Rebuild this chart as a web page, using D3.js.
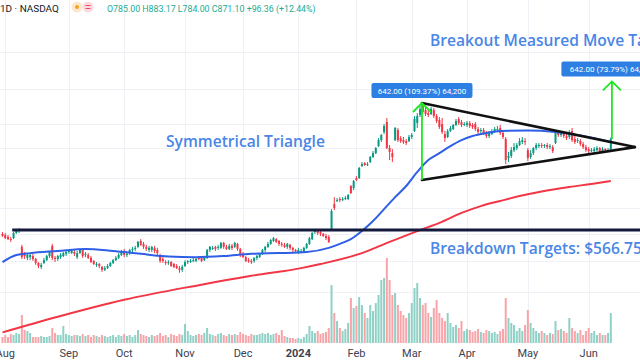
<!DOCTYPE html>
<html><head><meta charset="utf-8">
<script src="https://cdn.jsdelivr.net/npm/d3@7"></script>
<style>
html,body{margin:0;padding:0;background:#fff;overflow:hidden}
svg{display:block}
</style></head><body>
<svg id="chart" width="640" height="360"></svg>
<script>
// ---------- DATA (SMCI daily, Jul 31 2023 – Jun 13 2024) ----------
const firstDay = "2023-07-31";
const holidays = ["2023-09-04","2023-11-23","2023-12-25","2024-01-01","2024-01-15","2024-02-19","2024-03-29","2024-05-27"];

const open = [350,346,340,333,336,353,360,309,289,278, 280,283,275,265,255,265,272,283,312,278,
 275,280,283,289,294,291,294,280,291,300, 286,286,278,270,260,262,255,248,252,257,
 265,272,278,286,297,286,291,300,303,309, 327,318,309,300,300,306,300,286,275,267,
 265,267,262,257,252,248,257,267,267,270, 270,280,278,272,278,300,303,309,306,306,
 321,309,303,312,309,318,303,289,280,272, 270,270,278,280,289,300,309,318,327,333,
 327,318,315,309,315,306,300,294,294,294, 306,318,333,356,360,356,350,343,340,363,
 466,480,489,484,489,489,554,543,598,598, 671,691,678,697,732,760,813,861,930,1024,
 798,760,861,948,878,861,853,853,887,939, 1014,1095,1194,1149,1116,1106,1149,1085,1044,1005,
 913,887,939,958,995,1054,1024,995,995,1014, 995,1005,958,939,948,921,895,913,939,948,
 967,921,870,725,739,782,798,821,845,853, 782,732,760,798,813,821,813,821,805,805,
 837,930,904,921,895,887,939,870,853,853, 829,805,790,775,775,782,798,775,790,775, 785];
const high = [356,353,346,340,356,367,370,315,294,291, 291,289,278,267,265,278,286,297,318,283,
 286,291,294,297,300,303,300,297,303,303, 294,291,283,272,267,265,257,257,262,267,
 275,283,291,300,303,294,303,309,312,327, 333,324,315,312,312,312,306,289,280,272,
 272,270,265,262,257,260,272,272,275,278, 278,283,280,283,303,312,312,312,315,324,
 324,315,318,318,324,321,306,294,283,278, 275,280,286,291,303,312,324,333,340,336,
 330,324,321,321,318,309,303,306,303,309, 321,340,356,367,367,360,353,350,346,444,
 498,494,498,498,503,513,559,587,610,665, 697,697,697,739,775,805,878,913,1005,1064,
 821,790,976,967,895,887,870,904,921,1085, 1116,1194,1229,1183,1149,1183,1171,1106,1074,1064,
 939,958,986,1005,1054,1074,1044,1024,1034,1034, 1014,1024,976,967,967,939,939,958,976,986,
 995,939,887,768,805,837,837,878,887,878, 798,782,805,837,837,837,829,837,829,821,
 948,948,939,939,913,948,967,904,878,870, 845,821,805,798,805,813,805,805,798,798, 883];
const low = [340,333,330,324,333,350,353,275,275,272, 272,270,260,252,250,262,270,278,272,267,
 270,275,280,283,289,289,283,275,289,278, 280,275,265,260,255,252,243,245,250,255,
 262,270,275,283,280,280,286,294,297,306, 312,303,297,294,294,291,286,265,265,260,
 260,255,252,250,241,243,255,262,265,267, 267,272,267,270,275,294,300,297,300,303,
 303,300,300,300,306,297,280,278,267,265, 262,265,272,278,286,294,306,315,324,321,
 312,309,306,303,300,294,291,289,291,291, 303,315,330,350,346,343,340,330,321,360,
 440,475,475,480,484,484,513,533,581,593, 665,671,671,691,725,753,805,845,913,790,
 711,697,853,845,837,829,821,845,870,930, 967,1074,1106,1085,1074,1095,1064,1014,958,913,
 845,878,930,948,986,995,976,986,976,967, 958,939,913,921,904,878,878,904,921,930,
 904,870,684,697,725,768,782,813,829,821, 704,718,746,782,798,798,798,790,790,760,
 829,887,887,878,861,870,845,829,837,813, 790,768,760,768,768,775,768,768,768,768, 784];
const close = [343,336,333,330,353,360,363,280,283,286, 286,275,265,257,260,272,283,294,278,275,
 283,286,291,294,297,297,289,291,300,283, 289,278,267,262,262,257,248,252,257,265,
 272,278,286,294,286,289,300,303,306,324, 315,309,303,306,309,297,291,270,270,265,
 267,257,255,252,248,255,267,270,270,272, 275,275,270,278,300,309,306,303,309,321,
 309,303,312,306,321,303,286,280,270,270, 267,278,283,289,300,309,318,330,336,324,
 318,315,309,318,306,300,297,300,297,306, 318,336,353,360,353,350,343,336,324,436,
 449,484,484,489,494,508,518,581,587,659, 684,678,684,732,760,798,861,904,986,798,
 768,732,967,861,853,845,837,887,904,1054, 1085,1160,1127,1106,1095,1160,1085,1034,976,930,
 878,939,967,995,1034,1014,995,1005,1014,986, 976,958,930,948,921,895,921,939,958,958,
 921,887,711,739,782,805,821,853,861,845, 725,760,798,821,821,813,821,805,813,775,
 939,904,921,895,878,930,861,845,861,829, 805,782,775,782,790,798,775,790,782,782, 871];
const volume = [1.2,1.6,1.2,1.8,1.6,2.0,1.8,5.6,2.6,2.4, 2.0,1.2,1.2,1.2,1.4,1.2,1.2,1.4,3.0,2.0,
 1.6,1.6,3.4,1.8,1.6,1.4,1.6,1.6,1.4,1.8, 1.4,1.6,1.2,1.6,1.4,1.2,1.6,1.4,1.2,1.4,
 1.6,1.2,1.6,1.4,1.8,1.4,1.6,1.2,1.6,2.6, 1.8,1.6,1.4,1.2,1.6,1.4,1.6,2.0,1.4,1.6,
 1.2,1.8,1.6,1.4,1.8,1.6,3.8,2.4,1.6,1.4, 1.6,1.8,1.6,2.0,3.0,1.8,1.6,1.4,1.8,2.0,
 1.6,1.4,1.8,1.6,1.8,1.6,2.2,1.8,1.6,1.4, 1.8,1.6,1.6,1.8,2.0,1.8,2.0,1.6,1.8,2.0,
 1.6,2.6,1.4,1.2,1.0,1.0,0.8,1.0,0.8,1.2, 1.8,3.4,2.4,2.0,2.4,1.8,2.0,2.2,3.0,11.6,
 6.0,4.4,3.0,2.4,2.8,4.0,9.0,7.0,7.4,9.2, 7.6,6.0,5.0,7.6,6.4,8.0,9.6,12.6,13.0,17.0,
 12.6,9.6,10.0,7.6,6.4,5.6,5.0,6.0,8.0,11.0, 12.0,9.0,7.6,8.0,6.0,5.2,7.0,8.6,6.0,5.0,
 4.4,6.0,4.0,3.2,3.6,3.0,4.4,2.4,2.8,2.6, 2.2,2.4,2.8,2.2,2.0,2.6,2.4,2.0,2.2,1.8,
 2.4,2.8,9.0,5.0,4.0,3.6,2.4,3.0,2.4,3.6, 6.6,4.0,3.0,2.4,2.0,2.4,2.0,1.6,2.0,1.8,
 4.4,2.6,2.8,2.4,2.0,5.0,3.0,2.4,2.0,2.6, 1.6,2.4,3.0,2.0,2.4,1.6,2.0,1.6,1.6,2.0, 6.0];

// moving averages read at sampled bars (bar index, price)
const sma50Idx = [0,5,10,20,30,40,50,60,70,80,90,100,110,118,122,126,130,134,138,142,146,150,154,158,162,166,170,175,180,190,200,210,220];
const sma50 = [267,286,291,297,303,297,289,282,280,283,289,291,294,306,318,333,360,396,444,498,554,634,711,760,813,861,895,921,939,943,930,895,845];
const sma200Idx = [0,20,44,71,90,108,115,130,140,151,158,166,173,180,187,195,205,213,220];
const sma200 = [136,158,186,214,234,252,262,291,324,363,389,428,457,480,503,526,549,565,581];

// drawings
const levelPrice = 363, levelStartIdx = 3.5;
const triStartIdx = 151.7, triApexIdx = 228.7, triHigh = 1229, triLow = 587, triApex = 805;
const moves = [
  {idx:151.7, from:587, to:1229, label:"642.00 (109.37%) 64,200"},
  {idx:220.4, from:870, to:1512, label:"642.00 (73.79%) 64,200"}
];
const header = {sym:"1D · NASDAQ", ohlc:"O785.00 H883.17 L784.00 C871.10 +96.36 (+12.44%)"};

// ---------- build dates ----------
const fmt = d3.utcFormat("%Y-%m-%d");
const dates = [];
for (let d = new Date(firstDay + "T00:00:00Z"); dates.length < close.length; d = d3.utcDay.offset(d, 1)) {
  const wd = d.getUTCDay();
  if (wd !== 0 && wd !== 6 && !holidays.includes(fmt(d))) dates.push(new Date(d));
}
const ticks = [];
dates.forEach((d, i) => { if (i > 0 && d.getUTCMonth() !== dates[i-1].getUTCMonth()) ticks.push(i); });

// ---------- scales ----------
const n = close.length;
const x = d3.scaleLinear().domain([0, n - 1]).range([2.5, 2.5 + 2.765 * (n - 1)]);
const y = d3.scaleLog().domain([587, 1229]).range([180, 103]);
const yv = d3.scaleLinear().domain([0, 18]).range([343, 253]);

const UP = "#089981", DN = "#f23645";
const svg = d3.select("#chart");
const bars = d3.range(n);

// grid
const gridG = svg.append("g").attr("stroke", "#eef1f6").attr("stroke-width", 1);
gridG.selectAll("line.v").data(ticks).join("line")
  .attr("x1", i => Math.round(x(i)) + 0.5).attr("x2", i => Math.round(x(i)) + 0.5)
  .attr("y1", 0).attr("y2", 343);
gridG.selectAll("line.h").data([2000, 1400, 1000, 800, 600, 450, 350, 270, 200]).join("line")
  .attr("x1", 0).attr("x2", 640)
  .attr("y1", p => Math.round(y(p)) + 0.5).attr("y2", p => Math.round(y(p)) + 0.5);

// volume
svg.append("g").selectAll("rect").data(bars).join("rect")
  .attr("x", i => x(i) - 1).attr("width", 2)
  .attr("y", i => yv(volume[i])).attr("height", i => yv(0) - yv(volume[i]))
  .attr("fill", i => close[i] >= open[i] ? "#8fd1c6" : "#f8a4a8");

// candles
const cg = svg.append("g");
cg.selectAll("line").data(bars).join("line")
  .attr("x1", i => x(i)).attr("x2", i => x(i))
  .attr("y1", i => y(high[i])).attr("y2", i => y(low[i]))
  .attr("stroke", i => close[i] >= open[i] ? UP : DN).attr("stroke-width", 1);
cg.selectAll("rect").data(bars).join("rect")
  .attr("x", i => x(i) - 1).attr("width", 2)
  .attr("y", i => y(Math.max(open[i], close[i])))
  .attr("height", i => Math.max(1, Math.abs(y(open[i]) - y(close[i]))))
  .attr("fill", i => close[i] >= open[i] ? UP : DN);

// moving averages
const line = d3.line().x(d => x(d[0])).y(d => y(d[1])).curve(d3.curveMonotoneX);
svg.append("path").datum(sma200Idx.map((k, j) => [k, sma200[j]]))
  .attr("d", line).attr("fill", "none").attr("stroke", "#f23645").attr("stroke-width", 2);
svg.append("path").datum(sma50Idx.map((k, j) => [k, sma50[j]]))
  .attr("d", line).attr("fill", "none").attr("stroke", "#2f5fe6").attr("stroke-width", 2);

// horizontal level
svg.append("line").attr("x1", x(levelStartIdx)).attr("x2", 640)
  .attr("y1", y(levelPrice)).attr("y2", y(levelPrice))
  .attr("stroke", "#131a3d").attr("stroke-width", 3);

// triangle
const tri = svg.append("g").attr("stroke", "#111").attr("stroke-width", 2.6).attr("stroke-linecap", "round");
tri.append("line").attr("x1", x(triStartIdx)).attr("y1", y(triHigh)).attr("x2", x(triApexIdx)).attr("y2", y(triApex));
tri.append("line").attr("x1", x(triStartIdx)).attr("y1", y(triLow)).attr("x2", x(triApexIdx)).attr("y2", y(triApex));

// measured move arrows + labels
moves.forEach(m => {
  const ax = x(m.idx), y0 = y(m.from), y1 = y(m.to);
  const g = svg.append("g");
  g.append("path").attr("d", `M${ax},${y0}V${y1}M${ax-9},${y1+9}L${ax},${y1}L${ax+9},${y1+9}`)
    .attr("fill", "none").attr("stroke", "#1ee81e").attr("stroke-width", 1.8);
  const bw = 101, bh = 15;
  g.append("rect").attr("x", ax - bw / 2).attr("y", y1 - 5 - bh).attr("width", bw).attr("height", bh)
    .attr("rx", 2).attr("fill", "#2d7fe4");
  g.append("text").attr("x", ax).attr("y", y1 - 5 - bh / 2 + 3).attr("text-anchor", "middle")
    .attr("font-family", "Roboto, 'Liberation Sans', sans-serif").attr("font-size", 8)
    .attr("fill", "#fff").text(m.label);
});

// annotation texts
const annFont = "'Open Sans', 'DejaVu Sans', sans-serif";
const ann = [
  {t:"Breakout Measured Move Target", x:430, y:46},
  {t:"Symmetrical Triangle", x:166, y:147},
  {t:"Breakdown Targets: $566.75", x:430, y:254}
];
const annSel = svg.append("g").selectAll("text").data(ann).join("text")
  .attr("x", d => d.x).attr("y", d => d.y).attr("font-family", annFont)
  .attr("font-weight", 600).attr("font-size", 16).attr("fill", "#4a86e6").text(d => d.t);
// fit size so "Symmetrical Triangle" spans ~159px like the reference
const meas = annSel.filter(d => d.t === "Symmetrical Triangle").node().getComputedTextLength();
annSel.attr("font-size", 16 * 159 / meas);

// header
const hdr = svg.append("g");
const hs = hdr.append("text").attr("x", 0).attr("y", 12).attr("font-family", "Roboto, sans-serif")
  .attr("font-size", 11).attr("fill", "#131722").text(header.sym);
hs.attr("font-size", 11 * 59 / hs.node().getComputedTextLength());
hdr.append("circle").attr("cx", 77).attr("cy", 7).attr("r", 5.5).attr("fill", "#fde8cf");
hdr.append("circle").attr("cx", 77).attr("cy", 7).attr("r", 2).attr("fill", "#f7a21b");
hdr.append("circle").attr("cx", 88).attr("cy", 7).attr("r", 5.5).attr("fill", "#fcd9df");
hdr.append("path").attr("d", "M85.5,5.5h5M85.5,8.5h5").attr("stroke", "#f0476a").attr("stroke-width", 1.2);
const ho = hdr.append("text").attr("x", 107).attr("y", 12).attr("font-family", "Roboto, sans-serif")
  .attr("font-size", 10).attr("fill", "#22ab94").text(header.ohlc);
ho.attr("font-size", 10 * 209 / ho.node().getComputedTextLength());

// x axis labels
svg.append("g").selectAll("text").data(ticks).join("text")
  .attr("x", i => x(i)).attr("y", 357).attr("text-anchor", "middle")
  .attr("font-family", "Roboto, sans-serif").attr("font-size", 11)
  .attr("font-weight", i => dates[i].getUTCMonth() === 0 ? 700 : 400)
  .attr("fill", "#3d4150")
  .text(i => dates[i].getUTCMonth() === 0 ? d3.utcFormat("%Y")(dates[i]) : d3.utcFormat("%b")(dates[i]));
</script>
</body></html>
